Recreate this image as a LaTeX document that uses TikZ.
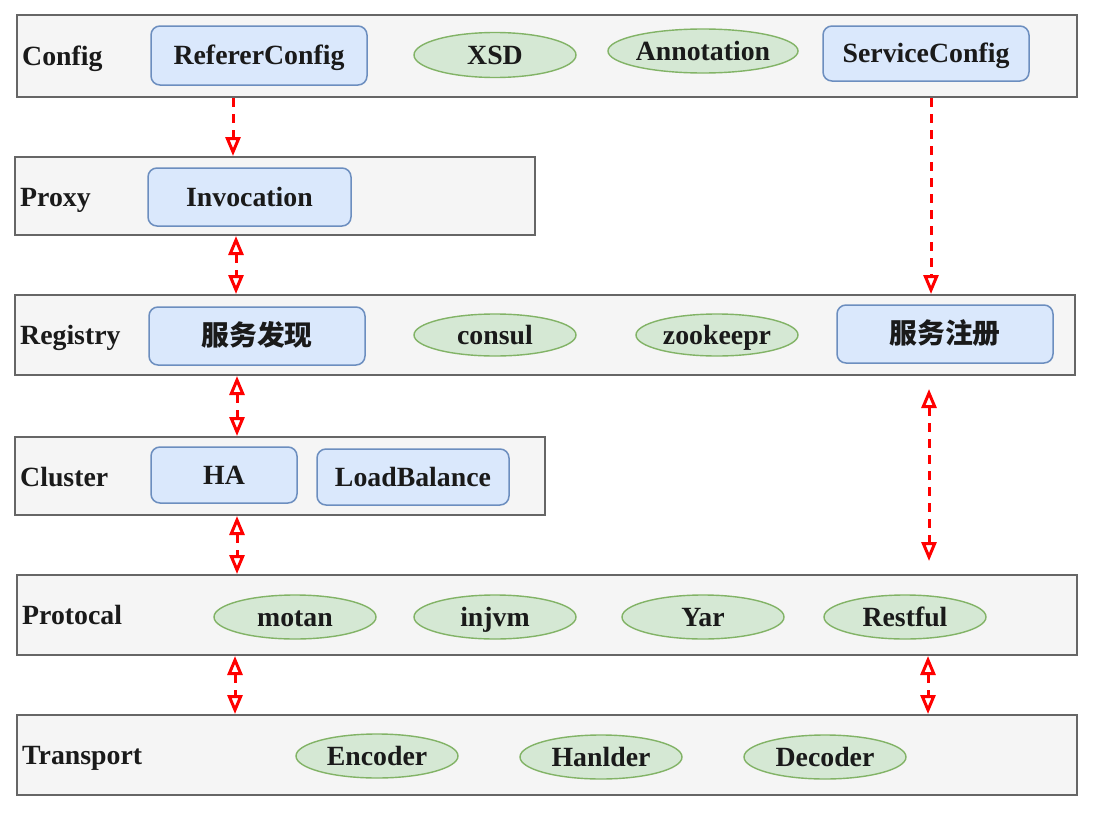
\documentclass[tikz,border=0pt]{standalone}
\usepackage{fontspec}
\setmainfont{Liberation Serif}
\newfontfamily\cjk{Noto Sans CJK SC}
\usetikzlibrary{arrows.meta,shapes.geometric}
\definecolor{layerfill}{HTML}{F5F5F5}
\definecolor{layerdraw}{HTML}{666666}
\definecolor{boxfill}{HTML}{DAE8FC}
\definecolor{boxdraw}{HTML}{6C8EBF}
\definecolor{ellfill}{HTML}{D5E8D4}
\definecolor{elldraw}{HTML}{82B366}
\definecolor{txt}{HTML}{1A1A1A}
\begin{document}
\begin{tikzpicture}[x=1pt,y=-1pt,
  every node/.style={text=txt,font=\fontsize{27.8}{30}\selectfont\bfseries,inner sep=0pt,text height=21pt,text depth=2.5pt},
  layer/.style={draw=layerdraw,fill=layerfill,line width=2pt,rectangle},
  lbl/.style={anchor=west},
  box/.style={draw=boxdraw,fill=boxfill,line width=1.5pt,rounded corners=9pt,minimum height=57pt},
  ell/.style={draw=elldraw,fill=ellfill,line width=1.4pt,ellipse,minimum width=162pt,minimum height=45pt},
  tip/.tip={Triangle[length=19pt,width=15pt,fill=white,line width'=3pt]},
  arr/.style={draw=red,line width=3pt,dash pattern=on 9pt off 7pt,-tip},
  arrb/.style={arr,tip-tip}]
\useasboundingbox (0,0) rectangle (1098,814);
\fill[white] (0,0) rectangle (1098,814);
% layers
\node[layer,minimum width=1060pt,minimum height=82pt] (cfg) at (547,56) {};
\node[layer,minimum width=520pt,minimum height=78pt] (proxy) at (275,196) {};
\node[layer,minimum width=1060pt,minimum height=80pt] (reg) at (545,335) {};
\node[layer,minimum width=530pt,minimum height=78pt] (clu) at (280,476) {};
\node[layer,minimum width=1060pt,minimum height=80pt] (pro) at (547,615) {};
\node[layer,minimum width=1060pt,minimum height=80pt] (tra) at (547,755) {};
% labels
\node[lbl] (lcfg) at (22,56) {Config};
\node[lbl] (lproxy) at (20,197) {Proxy};
\node[lbl] (lreg) at (20,335) {Registry};
\node[lbl] (lclu) at (20,477) {Cluster};
\node[lbl] (lpro) at (22,615) {Protocal};
\node[lbl] (ltra) at (22,755) {Transport};
% config
\node[box,minimum width=216pt,minimum height=59pt] (rc) at (259,55.5) {RefererConfig};
\node[ell] (xsd) at (495,55) {XSD};
\node[ell,minimum height=44pt] (ann) at (703,51) {Annotation};
\node[box,minimum width=206pt,minimum height=55pt] (sc) at (926,53.5) {ServiceConfig};
% proxy
\node[box,minimum width=203pt,minimum height=58pt] (inv) at (249.5,197) {Invocation};
% registry
\node[box,minimum width=216pt,minimum height=58pt] (fx) at (257,336) {\cjk 服务发现};
\node[ell,minimum height=42pt] (consul) at (495,335) {consul};
\node[ell,minimum height=42pt] (zk) at (717,335) {zookeepr};
\node[box,minimum width=216pt,minimum height=58pt] (zc) at (945,334) {\cjk 服务注册};
% cluster
\node[box,minimum width=146pt,minimum height=56pt] (ha) at (224,475) {HA};
\node[box,minimum width=192pt,minimum height=56pt] (lb) at (413,477) {LoadBalance};
% protocal
\node[ell,minimum height=44pt] (motan) at (295,617) {motan};
\node[ell,minimum height=44pt] (injvm) at (495,617) {injvm};
\node[ell,minimum height=44pt] (yar) at (703,617) {Yar};
\node[ell,minimum height=44pt] (rest) at (905,617) {Restful};
% transport
\node[ell,minimum height=44pt] (enc) at (377,756) {Encoder};
\node[ell,minimum height=44pt] (han) at (601,757) {Hanlder};
\node[ell,minimum height=44pt] (dec) at (825,757) {Decoder};
% connectors
\coordinate (r1) at (929,389);
\coordinate (r2) at (929,561);
\draw[arr] (233,0 |- cfg.south) -- (233,0 |- proxy.north);
\draw[arrb] (236,0 |- proxy.south) -- (236,0 |- reg.north);
\draw[arrb] (237,0 |- reg.south) -- (237,0 |- clu.north);
\draw[arrb] (237,0 |- clu.south) -- (237,0 |- pro.north);
\draw[arrb] (235,0 |- pro.south) -- (235,0 |- tra.north);
\draw[arr] (931,0 |- cfg.south) -- (931,0 |- reg.north);
\draw[arrb] (r1) -- (r2);
\draw[arrb] (928,0 |- pro.south) -- (928,0 |- tra.north);
\end{tikzpicture}
\end{document}
